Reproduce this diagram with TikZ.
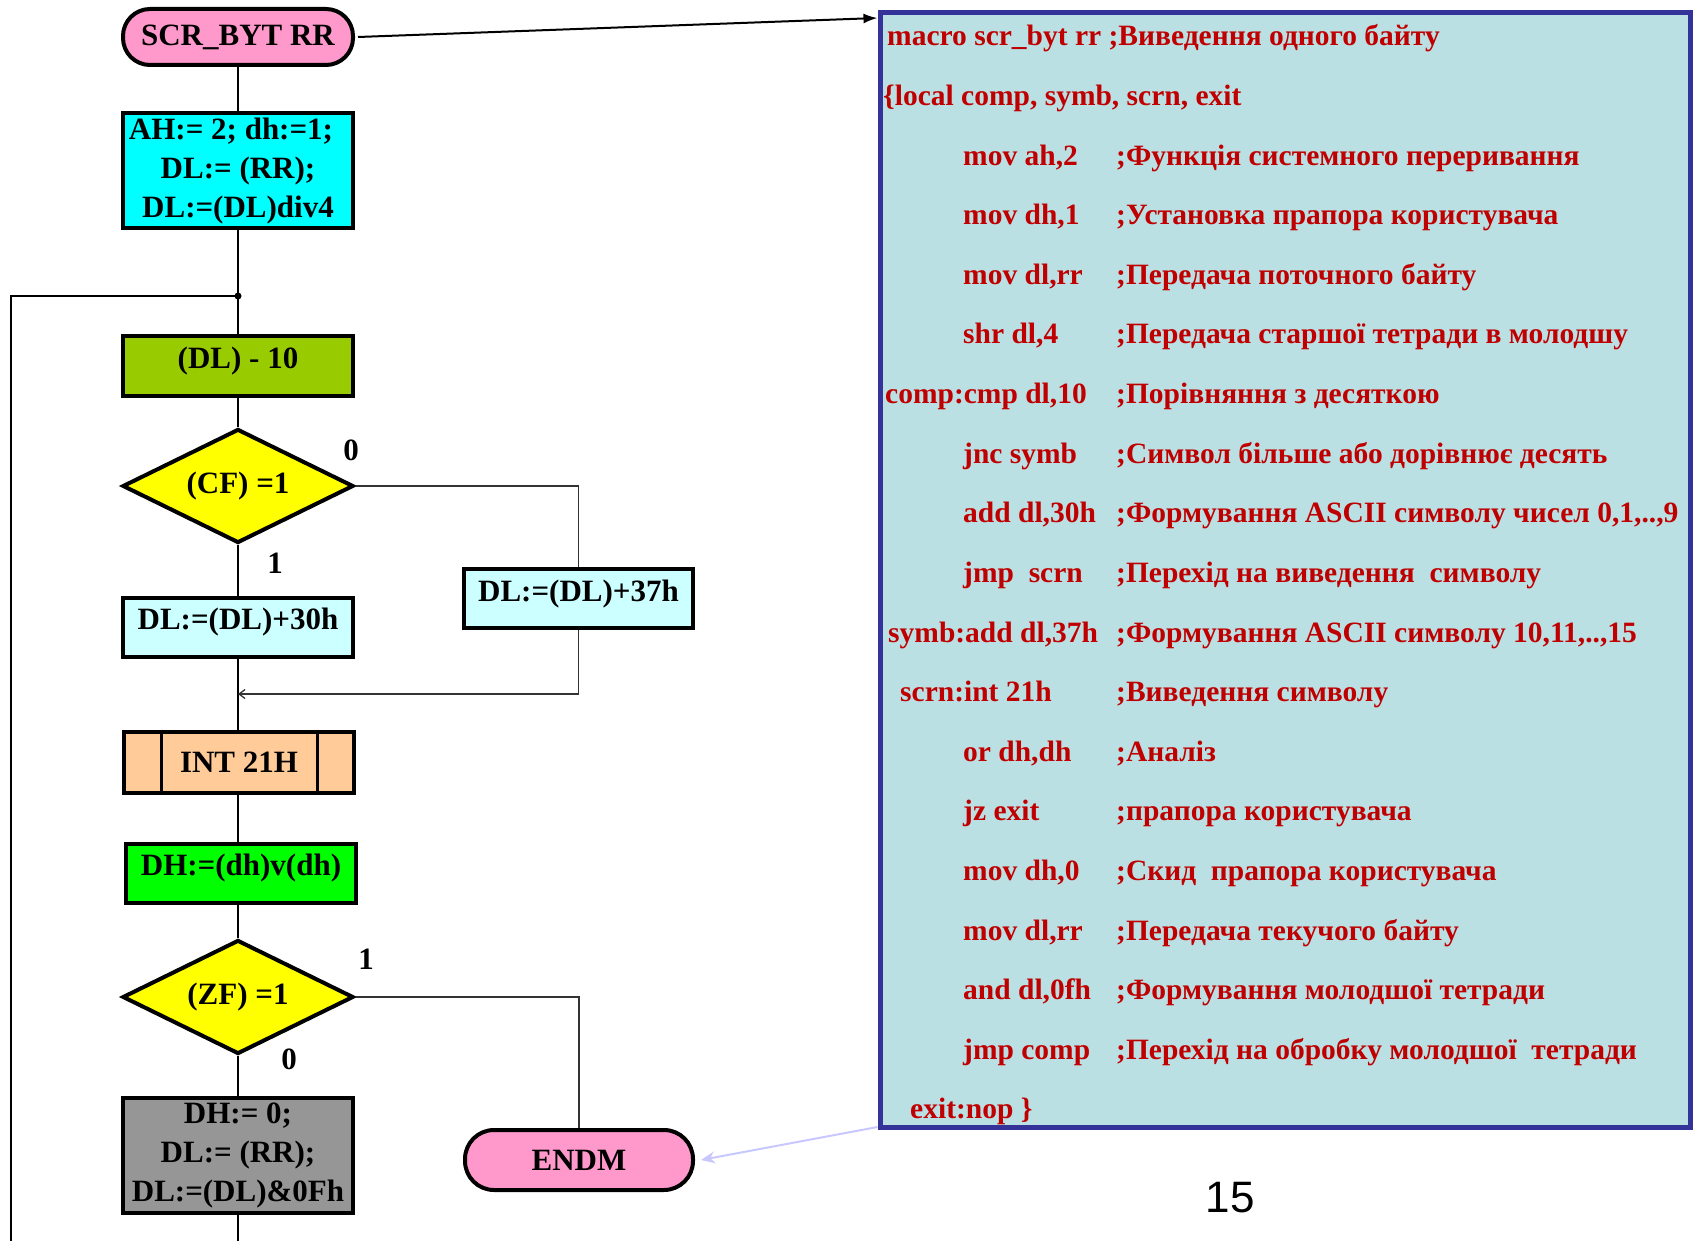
\documentclass[tikz,border=0pt]{standalone}
\usepackage{fontspec}
\setmainfont{Liberation Serif}
\newfontfamily\pagefont{Liberation Sans}
\usetikzlibrary{shapes.geometric,arrows.meta}

\definecolor{pinkc}{HTML}{FF99CC}
\definecolor{cyanc}{HTML}{00FFFF}
\definecolor{olivec}{HTML}{99CC00}
\definecolor{yellowc}{HTML}{FFFF00}
\definecolor{lcyan}{HTML}{CCFFFF}
\definecolor{peachc}{HTML}{FFCC99}
\definecolor{greenc}{HTML}{00FF00}
\definecolor{grayc}{HTML}{969696}
\definecolor{codebg}{HTML}{BBE0E3}
\definecolor{codeblue}{HTML}{333399}
\definecolor{codered}{HTML}{C00000}
\definecolor{lav}{HTML}{C8C8FF}

% one assembler line: number, x of the instruction, instruction, comment
\newcommand\asmline[4]{%
  \node[asm] (a#1) at (#2,{46+(#1-1)*59.6}) {#3};
  \node[asm] (b#1) at (1116,{46+(#1-1)*59.6}) {#4};}

\begin{document}
\begin{tikzpicture}[x=1pt,y=-1pt,
  flow/.style={font=\bfseries\fontsize{31}{39}\selectfont, align=center,
    inner sep=0pt, line width=4pt, draw=black},
  box/.style={flow, rectangle, minimum width=230pt, minimum height=59pt},
  up8/.style={text height=21pt, text depth=16pt},
  pill/.style={flow, rectangle, rounded corners=27pt, minimum width=230pt,
    minimum height=56pt, fill=pinkc},
  cond/.style={flow, diamond, aspect=2, minimum width=231pt,
    minimum height=114pt, fill=yellowc},
  wire/.style={line width=2pt},
  branch/.style={line width=1.3pt, draw=black!80},
  tag/.style={font=\bfseries\fontsize{31}{31}\selectfont, inner sep=0pt},
  asm/.style={font=\bfseries\fontsize{29.5}{34}\selectfont, text=codered,
    anchor=base west, inner sep=0pt},
]
\useasboundingbox (0,0) rectangle (1695,1241);

% ---- flowchart ----
\node[pill] (start) at (238,37) {SCR\_BYT RR};
\node[box, fill=cyanc, minimum height=115pt] (init) at (238,171)
  {AH:= 2; dh:=1;\hspace*{14pt}\\DL:= (RR);\\DL:=(DL)div4};
\node[box, up8, fill=olivec] (cmp) at (238,366) {(DL) - 10};
\node[cond] (cf) at (238,486) {(CF) =1};
\node[box, up8, fill=lcyan] (add30) at (238,627) {DL:=(DL)+30h};
\node[box, up8, fill=lcyan, minimum width=229pt] (add37) at (578.5,598.5) {DL:=(DL)+37h};
\node[box, fill=peachc, minimum height=61pt] (int) at (239,762) {INT 21H};
\draw[line width=3pt] ([xshift=39pt]int.north west) -- ([xshift=39pt]int.south west);
\draw[line width=3pt] ([xshift=-39pt]int.north east) -- ([xshift=-39pt]int.south east);
\node[box, up8, fill=greenc] (orr) at (241,873) {DH:=(dh)v(dh)};
\node[cond] (zf) at (238,997) {(ZF) =1};
\node[box, fill=grayc, minimum height=115pt] (rst) at (238,1155)
  {DH:= 0;\\DL:= (RR);\\DL:=(DL)\&0Fh};
\node[pill, minimum width=228pt, minimum height=60pt, rounded corners=29pt] (endm)
  at (579,1160) {ENDM};

% branch labels
\node[tag] (cf0) at (351,450) {0};
\node[tag] (cf1) at (275,563) {1};
\node[tag] (zf1) at (366,959) {1};
\node[tag] (zf0) at (289,1059) {0};

% helper points of the main line
\coordinate (j) at (238,296);
\coordinate (merge) at (238,694);
\coordinate (bot) at (238,1241);
\coordinate (lbot) at (11,1241);

% main line
\draw[wire] (start) -- (init);
\draw[wire] (init) -- (cmp);
\draw[wire] (cmp) -- (cf);
\draw[wire] (cf) -- (add30);
\draw[wire] (add30) -- (add30 |- int.north);
\draw[wire] (add30 |- int.south) -- (add30 |- orr.north);
\draw[wire] (zf |- orr.south) -- (zf);
\draw[wire] (zf) -- (rst);
\draw[wire] (rst) -- (bot);
% loop back
\draw[wire] (lbot) |- (j);
\fill (j) circle (3.5pt);
% side branches
\draw[branch] (cf) -| (add37);
\draw[branch, -{Straight Barb[length=6pt,width=9pt]}] (add37) |- (merge);
\draw[branch] (zf) -| (endm);

% ---- listing ----
\node[draw=codeblue, fill=codebg, line width=5pt, minimum width=810pt,
  minimum height=1115pt, inner sep=0pt] (code) at (1285,570) {};

\node[asm] (a1) at (887,46) {macro scr\_byt rr ;Виведення одного байту};
\node[asm] (a2) at (883,{46+59.6}) {\{local comp, symb, scrn, exit};
\asmline{3}{963}{mov ah,2}{;Функція системного переривання}
\asmline{4}{963}{mov dh,1}{;Установка прапора користувача}
\asmline{5}{963}{mov dl,rr}{;Передача поточного байту}
\asmline{6}{963}{shr dl,4}{;Передача старшої тетради в молодшу}
\asmline{7}{885}{comp:cmp dl,10}{;Порівняння з десяткою}
\asmline{8}{963}{jnc symb}{;Символ більше або дорівнює десять}
\asmline{9}{963}{add dl,30h}{;Формування ASCII символу чисел 0,1,..,9}
\asmline{10}{963}{jmp\ \ scrn}{;Перехід на виведення\ \ символу}
\asmline{11}{888}{symb:add dl,37h}{;Формування ASCII символу 10,11,..,15}
\asmline{12}{900}{scrn:int 21h}{;Виведення символу}
\asmline{13}{963}{or dh,dh}{;Аналіз}
\asmline{14}{963}{jz exit}{;прапора користувача}
\asmline{15}{963}{mov dh,0}{;Скид\ \ прапора користувача}
\asmline{16}{963}{mov dl,rr}{;Передача текучого байту}
\asmline{17}{963}{and dl,0fh}{;Формування молодшої тетради}
\asmline{18}{963}{jmp comp}{;Перехід на обробку молодшої\ \ тетради}
\node[asm] (a19) at (910,{46+18*59.6}) {exit:nop \}};

% arrows between the chart and the listing
\draw[line width=2pt, -{Latex[length=14pt,width=10pt]}]
  ([xshift=3pt]start.east) -- ([yshift=-8pt]code.north west);
\draw[line width=2pt, draw=lav, -{Stealth[length=14pt,width=12pt]}]
  ([yshift=3pt]code.south west) -- ([xshift=6pt]endm.east);

% page number
\node[font=\pagefont\fontsize{44}{44}\selectfont, inner sep=0pt] (pg) at (1230,1198) {15};
\end{tikzpicture}
\end{document}
